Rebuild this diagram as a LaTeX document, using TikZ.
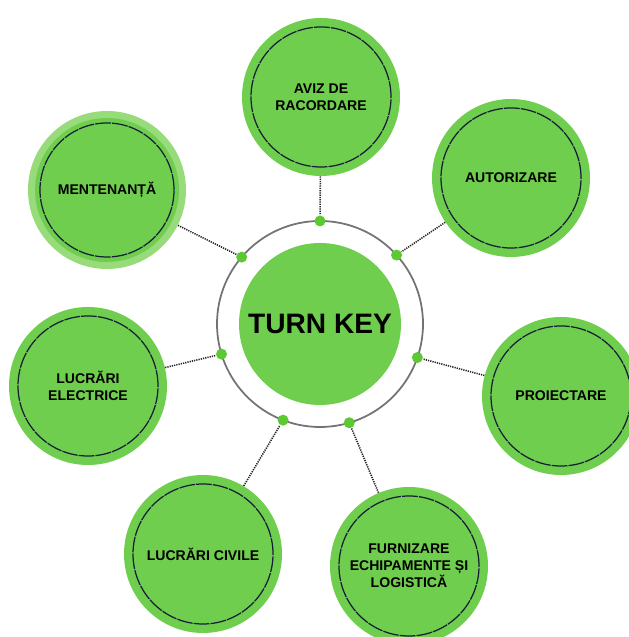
\documentclass[tikz,border=0pt]{standalone}
\usepackage{fontspec}
\setmainfont{Liberation Sans}
\usepackage{tikz}
\usetikzlibrary{calc}

\definecolor{verde}{RGB}{112,206,78}
\definecolor{verdeclar}{RGB}{152,219,122}
\definecolor{punct}{RGB}{92,200,52}
\definecolor{bleumarin}{RGB}{20,30,55}

\begin{document}
\begin{tikzpicture}[
  font=\bfseries,
  sat/.style={
    circle, fill=verde, minimum size=3.16cm, inner sep=0pt,
    align=center, font=\bfseries\fontsize{8}{9.8}\selectfont
  },
  inel/.style={draw=bleumarin, line width=0.7pt, dash pattern=on 9pt off 0.6pt},
  punctul/.style={circle, fill=punct, minimum size=0.22cm, inner sep=0pt},
  lien/.style={draw=black!85, line width=0.9pt, dash pattern=on 0.7pt off 0.6pt}
]
\useasboundingbox (0,0) rectangle (12.56,12.74);

% --- centre ---
\node[circle, fill=verde, minimum size=3.24cm, inner sep=0pt,
  font=\bfseries\fontsize{16}{18}\selectfont] (tk) at (6.40,6.26) {TURN KEY};
\draw[black!55, line width=1pt] (tk.center) circle (2.06);

% --- satellites ---
\node[sat] (aviz) at (6.42,10.80) {AVIZ DE\\RACORDARE};
\node[sat] (autorizare) at (10.22,9.18) {AUTORIZARE};
\node[sat] (proiectare) at (11.22,4.82) {PROIECTARE};
\node[sat] (furnizare) at (8.18,1.42) {FURNIZARE\\ECHIPAMENTE ȘI\\LOGISTICĂ};
\node[sat] (civile) at (4.06,1.66) {LUCRĂRI CIVILE};
\node[sat] (electrice) at (1.76,5.02) {LUCRĂRI\\ELECTRICE};
\node[sat, fill=verdeclar] (mentenanta) at (2.14,8.94) {};
\fill[verde] (mentenanta.center) circle (1.44);
\node[font=\bfseries\fontsize{8}{9.8}\selectfont] at (mentenanta.center) {MENTENANȚĂ};

\foreach \n in {aviz,autorizare,proiectare,furnizare,civile,electrice}
  \draw[inel] (\n.center) circle (1.40);
\draw[inel] (mentenanta.center) circle (1.34);

% --- puncte pe inel + legaturi ---
\foreach \n/\a [count=\i] in {aviz/90, autorizare/42, proiectare/-19, furnizare/-73.5,
    civile/-111, electrice/197, mentenanta/139.5} {
  \node[punctul] (d\i) at ($(tk.center)+(\a:2.06)$) {};
  \draw[lien] (\n) -- (d\i);
}

\end{tikzpicture}
\end{document}
